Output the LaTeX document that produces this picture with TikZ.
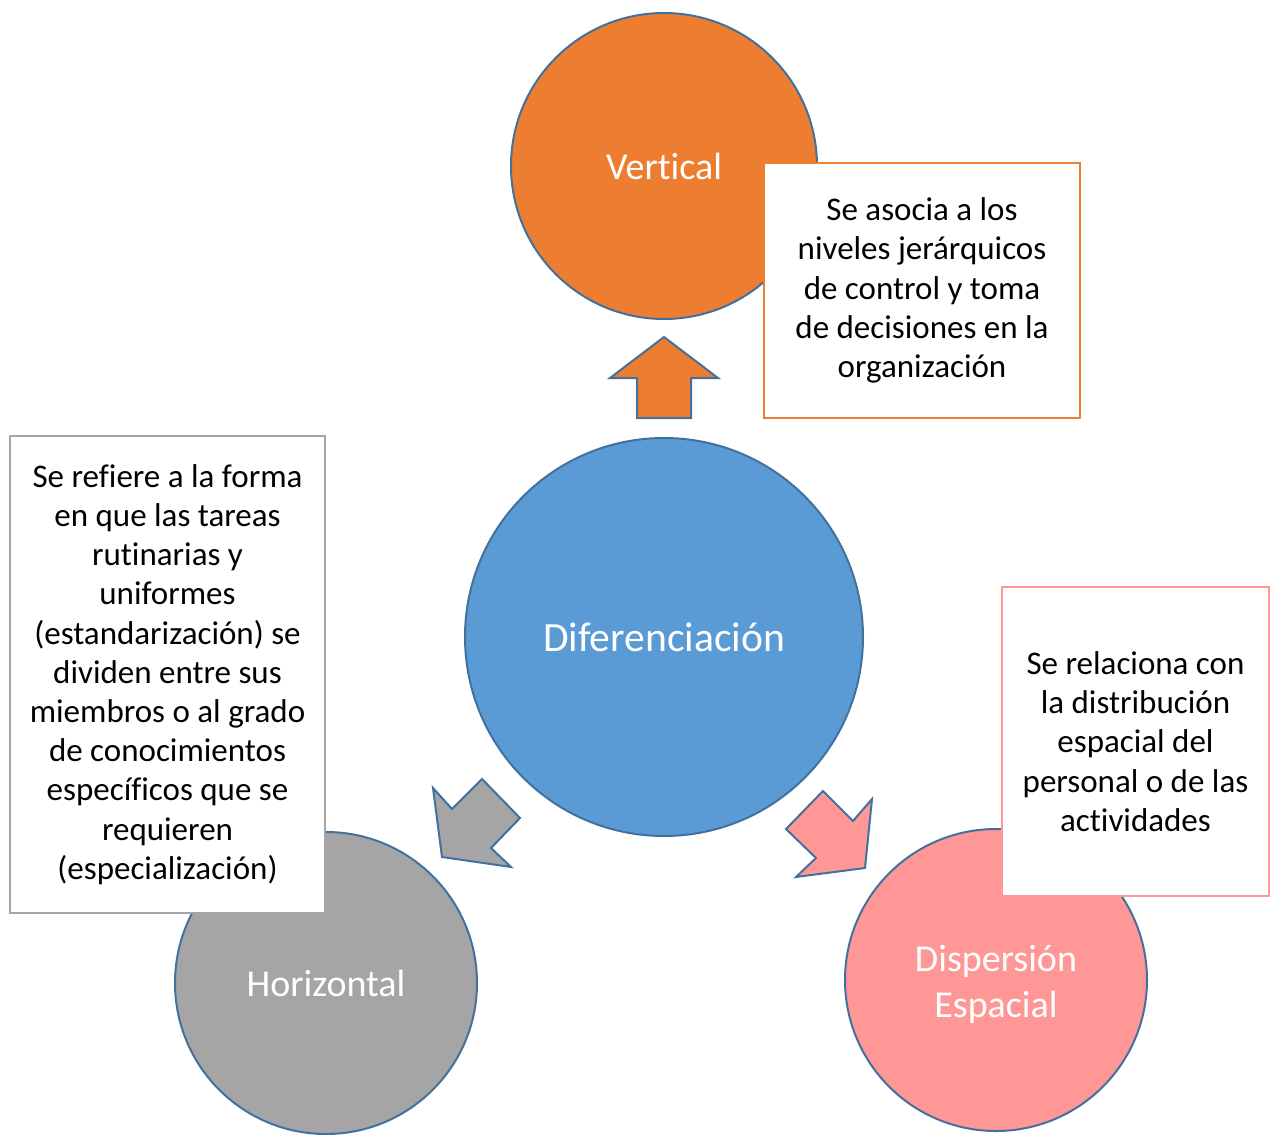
\documentclass[tikz,border=0pt]{standalone}
\usepackage{fontspec}
\setmainfont{Carlito}[Ligatures=NoCommon]
\definecolor{cborder}{HTML}{41719C}
\definecolor{corange}{HTML}{ED7D31}
\definecolor{cblue}{HTML}{5B9BD5}
\definecolor{cgray}{HTML}{A5A5A5}
\definecolor{cpink}{HTML}{FF9797}
\begin{document}
\begin{tikzpicture}[x=0.5pt,y=-0.5pt,
  circ/.style={circle, draw=cborder, line width=1pt, inner sep=0pt, text=white, align=center},
  descbox/.style={draw, fill=white, line width=1pt, align=center, inner sep=0pt,
    font=\fontsize{16.5}{19.6}\selectfont},
  blockarrow/.style={draw=cborder, line width=1pt, line join=miter}]
\useasboundingbox (0,0) rectangle (1270,1135);
% circles
\node[circ, fill=corange, minimum size=153pt, font=\fontsize{19}{22}\selectfont] (vert) at (664,166) {Vertical};
\node[circ, fill=cblue, minimum size=199pt, font=\fontsize{20.8}{24}\selectfont] (dif) at (664,637) {Diferenciación};
\node[circ, fill=cgray, minimum size=151pt, font=\fontsize{19}{22}\selectfont] (hor) at (326,983) {Horizontal};
\node[circ, fill=cpink, minimum size=151pt] (disp) at (996,980) {};
\node[text=white, align=center, inner sep=0pt, font=\fontsize{19}{23}\selectfont] (disptext) at (996,984) {Dispersión\\Espacial};
% block arrows
\draw[blockarrow, fill=corange] (664,337) -- (718,378) -- (691,378) -- (691,418) -- (637,418) -- (637,378) -- (610,378) -- cycle;
\draw[blockarrow, fill=cgray] (442,857) -- (433,788) -- (452,809) -- (482,779) -- (520,818) -- (491,848) -- (511,867) -- cycle;
\draw[blockarrow, fill=cpink] (865,868) -- (796,877) -- (816,858) -- (786,829) -- (823,791) -- (853,821) -- (872,799) -- cycle;
% description boxes
\node[descbox, draw=corange, minimum width=158pt, minimum height=127.5pt] (vbox) at (922,290.5)
  {Se asocia a los\\niveles jerárquicos\\de control y toma\\de decisiones en la\\organización};
\node[descbox, draw=cgray, minimum width=157.5pt, minimum height=238.5pt] (hbox) at (167.5,674.5)
  {Se refiere a la forma\\en que las tareas\\rutinarias y\\uniformes\\(estandarización) se\\dividen entre sus\\miembros o al grado\\de conocimientos\\específicos que se\\requieren\\(especialización)};
\node[descbox, draw=cpink, minimum width=133.5pt, minimum height=154.5pt] (dbox) at (1135.5,741.5)
  {Se relaciona con\\la distribución\\espacial del\\personal o de las\\actividades};
\end{tikzpicture}
\end{document}
